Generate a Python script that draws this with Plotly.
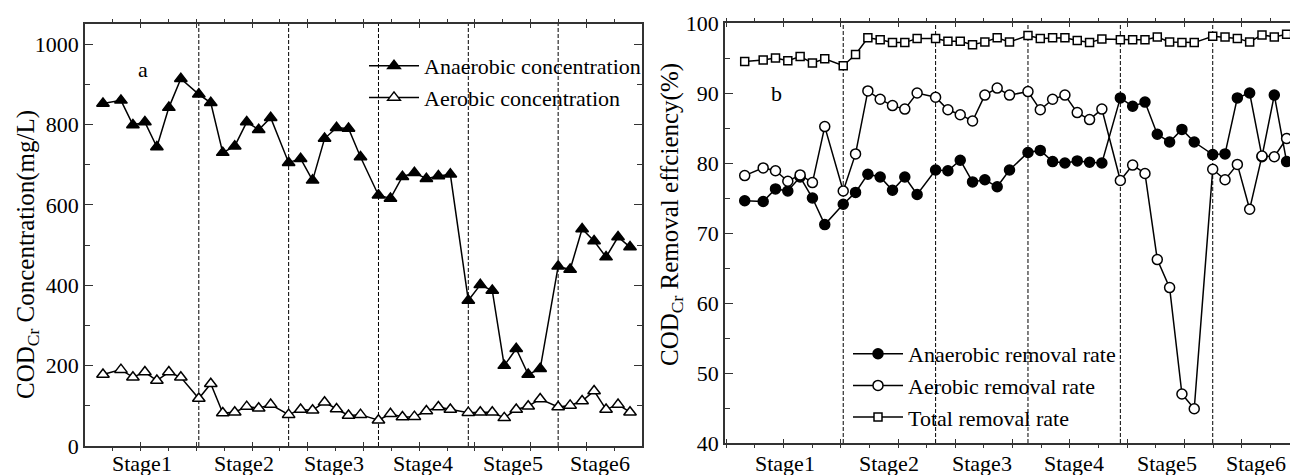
import plotly.graph_objects as go

# Sampling days (operation time axis)
days = [3, 6, 8, 10, 12, 14, 16, 19, 21, 23, 25, 27, 29, 31, 34, 36, 38, 40, 42, 44, 46,
        49, 51, 53, 55, 57, 59, 61, 64, 66, 68, 70, 72, 74, 76, 79, 81, 83, 85, 87, 89, 91]

# Days where one operating stage ends and the next begins
stage_bounds = [19, 34, 49, 64, 79]
stage_names = ["Stage1", "Stage2", "Stage3", "Stage4", "Stage5", "Stage6"]

# Panel a: COD_Cr concentration (mg/L)
anaerobic_conc = [852, 860, 799, 806, 744, 842, 914, 875, 854, 730, 746, 806, 787, 817,
                  705, 715, 661, 765, 792, 790, 719, 624, 616, 670, 680, 665, 672, 676,
                  362, 401, 387, 200, 242, 178, 192, 447, 439, 540, 510, 470, 520, 495]
aerobic_conc = [178, 190, 171, 184, 163, 184, 171, 118, 155, 82, 84, 98, 94, 103,
                78, 91, 89, 109, 92, 76, 78, 64, 80, 72, 73, 87, 97, 91,
                83, 84, 84, 70, 91, 99, 117, 97, 101, 112, 137, 91, 103, 84]

# Panel b: COD_Cr removal efficiency (%)
anaerobic_rate = [74.6, 74.5, 76.3, 76.0, 78.0, 75.0, 71.2, 74.1, 75.8, 78.4, 78.0, 76.1, 78.0, 75.5,
                  79.0, 78.9, 80.4, 77.3, 77.6, 76.6, 79.0, 81.5, 81.8, 80.2, 80.0, 80.3, 80.1, 80.0,
                  89.3, 88.1, 88.7, 84.1, 83.0, 84.8, 83.0, 81.2, 81.3, 89.3, 90.0, 80.9, 89.7, 80.2]
aerobic_rate = [78.2, 79.3, 78.9, 77.4, 78.3, 77.2, 85.2, 76.0, 81.3, 90.3, 89.1, 88.2, 87.7, 90.0,
                89.4, 87.6, 86.9, 86.0, 89.7, 90.7, 89.7, 90.2, 87.6, 89.1, 89.7, 87.2, 86.2, 87.7,
                77.5, 79.7, 78.5, 66.2, 62.2, 47.0, 44.9, 79.1, 77.6, 79.8, 73.4, 81.0, 80.9, 83.5]
total_rate = [94.5, 94.7, 95.0, 94.6, 95.2, 94.3, 94.9, 93.9, 95.5, 97.9, 97.6, 97.2, 97.2, 97.8,
              97.8, 97.4, 97.4, 96.9, 97.3, 97.9, 97.3, 98.2, 97.8, 97.9, 97.9, 97.5, 97.2, 97.7,
              97.6, 97.6, 97.6, 98.0, 97.3, 97.2, 97.2, 98.1, 98.0, 97.8, 97.3, 98.3, 98.0, 98.4]

FONT = "Liberation Serif"
W, H = 1290, 475
AXC = "#333333"
DAY_END = 93.0
TICK_STEP = 9.3

fig = go.Figure()

line = dict(color="black", width=1.5)


def add(x, y, name, symbol, fill, size, xa, ya, legend):
    fig.add_trace(go.Scatter(
        x=x, y=y, name=name, mode="lines+markers", line=line,
        marker=dict(symbol=symbol, size=size, color=fill, line=dict(color="black", width=1.5)),
        xaxis=xa, yaxis=ya, legend=legend, cliponaxis=False))


add(days, anaerobic_conc, "Anaerobic concentration", "triangle-up", "black", 11, "x", "y", "legend")
add(days, aerobic_conc, "Aerobic concentration", "triangle-up", "white", 11, "x", "y", "legend")
add(days, anaerobic_rate, "Anaerobic removal rate", "circle", "black", 10, "x2", "y2", "legend2")
add(days, aerobic_rate, "Aerobic removal rate", "circle", "white", 10, "x2", "y2", "legend2")
add(days, total_rate, "Total removal rate", "square", "white", 8, "x2", "y2", "legend2")


def xax(domain, rng, anchor):
    return dict(domain=domain, range=rng, anchor=anchor, tick0=0, dtick=TICK_STEP,
                showticklabels=False, ticks="inside", ticklen=4, tickcolor=AXC, mirror="ticks",
                minor=dict(dtick=TICK_STEP / 2, ticks="outside", ticklen=3, tickcolor=AXC),
                showline=True, linecolor=AXC, linewidth=1.5, showgrid=False, zeroline=False)


def yax(domain, rng, dt, mirror, anchor):
    return dict(domain=domain, range=rng, anchor=anchor, dtick=dt, ticks="inside", ticklen=8,
                tickcolor=AXC,
                minor=dict(dtick=dt / 2, ticks="inside", ticklen=5, tickcolor=AXC),
                mirror=mirror, showline=True, linecolor=AXC, linewidth=1.5,
                showgrid=False, zeroline=False,
                tickfont=dict(family=FONT, size=22, color="black"))


fig.update_layout(
    width=W, height=H, margin=dict(l=0, r=0, t=0, b=0, autoexpand=False),
    paper_bgcolor="white", plot_bgcolor="white",
    font=dict(family=FONT, size=22, color="black"),
    xaxis=xax([85 / W, 642 / W], [0, DAY_END], "y"),
    yaxis=yax([(H - 446) / H, (H - 24) / H], [0, 1050], 200, "ticks", "x"),
    xaxis2=xax([725 / W, 1.0], [-0.2, 91.55], "y2"),
    yaxis2=yax([(H - 443) / H, (H - 23) / H], [40, 100], 10, False, "x2"),
    legend=dict(x=364 / W, y=(H - 45) / H, xanchor="left", yanchor="top",
                bgcolor="rgba(0,0,0,0)", font=dict(family=FONT, size=22),
                itemwidth=50, tracegroupgap=0),
    legend2=dict(x=848 / W, y=(H - 333) / H, xanchor="left", yanchor="top",
                 bgcolor="rgba(0,0,0,0)", font=dict(family=FONT, size=22),
                 itemwidth=50, tracegroupgap=0),
)

# Stage boundaries as dashed verticals in both panels
shapes = []
for b in stage_bounds:
    for xr, yr in (("x", "y domain"), ("x2", "y2 domain")):
        shapes.append(dict(type="line", xref=xr, yref=yr, x0=b, x1=b, y0=0, y1=1,
                           line=dict(color="black", width=1, dash="4px,2px"), layer="below"))
fig.update_layout(shapes=shapes)

txt = dict(showarrow=False, xanchor="center", yanchor="middle")

# Stage labels centred between boundaries
edges = [0] + stage_bounds + [DAY_END]
ann = []
for i, name in enumerate(stage_names):
    mid = (edges[i] + edges[i + 1]) / 2
    for xr in ("x", "x2"):
        ann.append(dict(x=mid, y=(H - 463) / H, xref=xr, yref="paper", text=name,
                        font=dict(family=FONT, size=22), **txt))

ann.append(dict(x=143 / W, y=(H - 69) / H, xref="paper", yref="paper", text="a",
                font=dict(family=FONT, size=22), **txt))
ann.append(dict(x=776 / W, y=(H - 93) / H, xref="paper", yref="paper", text="b",
                font=dict(family=FONT, size=22), **txt))

ann.append(dict(x=27 / W, y=(H - 255) / H, xref="paper", yref="paper",
                text="COD<sub>Cr</sub> Concentration(mg/L)", textangle=-90,
                font=dict(family=FONT, size=25), **txt))
ann.append(dict(x=672 / W, y=(H - 215) / H, xref="paper", yref="paper",
                text="COD<sub>Cr</sub> Removal effciency(%)", textangle=-90,
                font=dict(family=FONT, size=25), **txt))
fig.update_layout(annotations=ann)

fig.write_html("out.html")
